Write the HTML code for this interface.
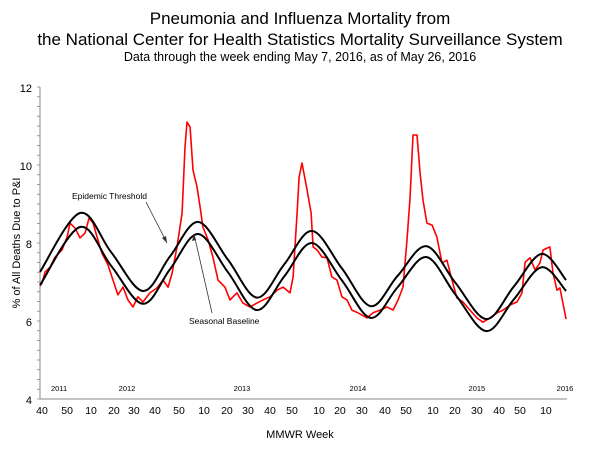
<!DOCTYPE html>
<html><head><meta charset="utf-8"><style>
body{margin:0;background:#fff;}
svg{display:block;font-family:"Liberation Sans",Arial,sans-serif;}
</style></head><body>
<svg id="chart" width="600" height="450" viewBox="0 0 600 450">
<text x="300" y="24" text-anchor="middle" font-size="17">Pneumonia and Influenza Mortality from</text>
<text x="300" y="45" text-anchor="middle" font-size="17">the National Center for Health Statistics Mortality Surveillance System</text>
<text x="300" y="61" text-anchor="middle" font-size="12.5">Data through the week ending May 7, 2016, as of May 26, 2016</text>
<text transform="translate(20,243) rotate(-90)" text-anchor="middle" font-size="11">% of All Deaths Due to P&amp;I</text>
<text x="300" y="438" text-anchor="middle" font-size="11">MMWR Week</text>
<g id="axes"></g>
<g id="series"></g>
<text x="72" y="199" font-size="8.5">Epidemic Threshold</text>
<line x1="146" y1="202" x2="167" y2="243" stroke="#333" stroke-width="0.8"/>
<polygon points="167,243 162,238 166,236" fill="#333"/>
<text x="189" y="324" font-size="8.5">Seasonal Baseline</text>
<line x1="212" y1="313" x2="194" y2="234" stroke="#333" stroke-width="0.8"/>
<polygon points="194,234 192,241 196,240" fill="#333"/>
</svg>
<script>
// ---- data ----
const yTicks = [4, 6, 8, 10, 12];
const weekTickLabels = ["40","50","10","20","30","40","50","10","20","30","40","50","10","20","30","40","50","10","20","30","40","50","10"];
const weekTickPos = [0.9,12.2,23,33.3,42.3,51.8,62.6,73.9,84.2,93.7,103.6,113.5,125.7,135.1,145,155.4,164.9,177,186.9,196.8,206.8,216.2,227.9];
const yearLabels = ["2011","2012","2013","2014","2015","2016"];
const yearPos = [8.6,39.2,91,143.2,196.8,236.5];
const curveWeeks = [0,18,32,46.4,58.6,71.2,84.7,97.7,110,122.5,136,149,161,174,187,201,213.5,226,237];
const baseline = [6.92,8.41,7.42,6.44,7.33,8.23,7.25,6.28,7.14,8.0,7.04,6.08,6.86,7.64,6.69,5.74,6.56,7.38,6.77];
const threshold = [7.26,8.77,7.77,6.77,7.66,8.54,7.57,6.6,7.45,8.31,7.35,6.38,7.15,7.92,6.99,6.05,6.89,7.72,7.05];
const piWeeks = [0,0.9,2.3,4.5,6.8,9.9,12.2,13.5,15.8,18,20.3,22.1,23.9,25.7,27.9,30.6,32.9,35.1,37.4,39.6,41.9,44.1,46.4,49.5,52.7,55.4,57.7,59.5,61.7,64,65.3,66.2,67.6,68.9,70.7,72.1,73.4,75.7,77.9,80.2,83.3,85.6,88.7,91.4,94.6,97.7,100.5,103.6,106.8,109.5,112.6,114,115.8,116.7,118,120.3,122.1,123,124.8,127,129.3,131.5,133.8,136,138.3,140.5,143.2,147.3,150,153.2,156.3,159,161.3,163.5,165.3,166.7,168,169.8,171.2,172.5,174.3,176.6,178.8,181.1,183.3,185.6,187.8,190.5,193.7,196.8,199.5,202.7,205.9,208.6,211.7,214.9,217.1,218.5,220.7,223,225.2,226.6,228.4,229.7,231.1,232.9,234.2,237];
const piPct = [6.9,6.97,7.26,7.38,7.64,7.82,8.15,8.51,8.38,8.13,8.26,8.64,8.51,8.15,7.74,7.44,7.05,6.67,6.87,6.54,6.36,6.62,6.49,6.72,6.85,7.05,6.87,7.23,7.9,8.77,10.46,11.1,10.97,9.87,9.44,8.92,8.41,8.08,7.64,7.05,6.87,6.54,6.72,6.46,6.36,6.46,6.54,6.62,6.79,6.87,6.72,7.13,8.77,9.69,10.05,9.36,8.77,7.9,7.82,7.64,7.62,7.13,7.05,6.62,6.54,6.28,6.21,6.08,6.21,6.28,6.36,6.28,6.54,6.87,8.08,9.18,10.77,10.77,9.79,9.1,8.51,8.46,8.15,7.49,7.56,7.05,6.59,6.49,6.28,6.08,5.97,6.08,6.21,6.28,6.41,6.49,6.72,7.51,7.62,7.31,7.49,7.82,7.87,7.9,7.23,6.79,6.85,6.05];

// ---- scales ----
const X0 = 40, PXW = 2.22;
function xS(w){ return X0 + w*PXW; }
function yS(v){ return 399 - (v-4)*39; }

const NS = "http://www.w3.org/2000/svg";
function mk(tag, attrs, parent){
  const e = document.createElementNS(NS, tag);
  for (const k in attrs) e.setAttribute(k, attrs[k]);
  parent.appendChild(e); return e;
}
const axes = document.getElementById('axes');
const series = document.getElementById('series');

let yl = mk('line', {x1:40,y1:87,x2:40,y2:399,stroke:'#888','stroke-width':1}, axes);


let xl = mk('line', {x1:40,y1:399,x2:567,y2:399,stroke:'#888','stroke-width':1}, axes);


for (let v = 4; v <= 12.001; v += 0.25){
  let t = mk('line', {x1:37,y1:yS(v),x2:40,y2:yS(v),stroke:'#888','stroke-width':0.8}, axes);
  
  
}
yTicks.forEach(v => {
  let t = mk('text', {x:32,y:yS(v)+5,'text-anchor':'end','font-size':11}, axes);
  t.textContent = v;
  
  
});
weekTickLabels.forEach((s,i) => {
  let t = mk('text', {x:xS(weekTickPos[i]),y:414,'text-anchor':'middle','font-size':10.5}, axes);
  t.textContent = s;
  
  
});
yearLabels.forEach((s,i) => {
  let t = mk('text', {x:xS(yearPos[i]),y:391,'text-anchor':'middle','font-size':7.5}, axes);
  t.textContent = s;
  
  
});

function smoothPath(ws, vs){
  const p = ws.map((w,i)=>[xS(w), yS(vs[i])]);
  let d = 'M'+p[0][0].toFixed(1)+','+p[0][1].toFixed(1);
  for (let i=0;i<p.length-1;i++){
    const p0=p[i-1]||p[i], p1=p[i], p2=p[i+1], p3=p[i+2]||p[i+1];
    const c1=[p1[0]+(p2[0]-p0[0])/6, p1[1]+(p2[1]-p0[1])/6];
    const c2=[p2[0]-(p3[0]-p1[0])/6, p2[1]-(p3[1]-p1[1])/6];
    d+=' C'+c1.map(n=>n.toFixed(1)).join(',')+' '+c2.map(n=>n.toFixed(1)).join(',')+' '+p2.map(n=>n.toFixed(1)).join(',');
  }
  return d;
}
function linePath(ws, vs){
  return ws.map((w,i)=>(i?'L':'M')+xS(w).toFixed(1)+','+yS(vs[i]).toFixed(1)).join(' ');
}
let pl = mk('path', {d:linePath(piWeeks, piPct), fill:'none', stroke:'#ff0000','stroke-width':1.6,'stroke-linejoin':'round'}, series);


let bl = mk('path', {d:smoothPath(curveWeeks, baseline), fill:'none', stroke:'#000','stroke-width':2}, series);


let tl = mk('path', {d:smoothPath(curveWeeks, threshold), fill:'none', stroke:'#000','stroke-width':2}, series);


</script>
</body></html>
